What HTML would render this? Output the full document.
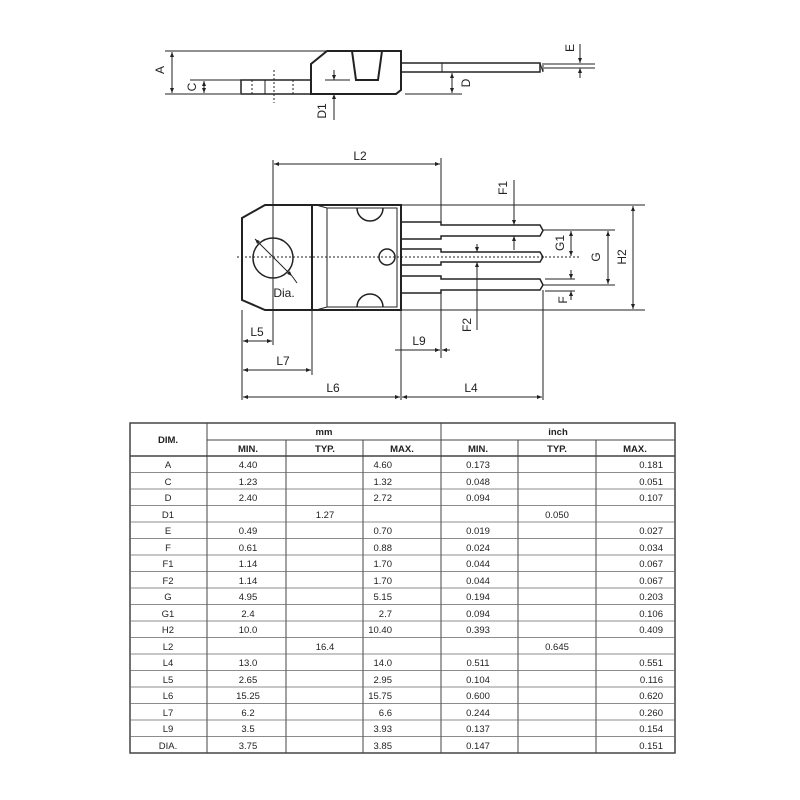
<!DOCTYPE html>
<html><head><meta charset="utf-8"><style>
body{margin:0;background:#fff;}
svg{display:block}
text{font-family:"Liberation Sans",sans-serif;fill:#222}
</style></head><body>
<svg width="800" height="800" viewBox="0 0 800 800" xmlns="http://www.w3.org/2000/svg">
<defs>
<marker id="a" viewBox="0 0 10 10" refX="10" refY="5" markerWidth="5" markerHeight="5" orient="auto-start-reverse"><path d="M0,1 L10,5 L0,9z" fill="#222"/></marker>
</defs>
<g stroke="#222" fill="none" stroke-width="1">
<!-- TOP VIEW -->
<line x1="165" y1="51" x2="327" y2="51"/>
<line x1="165" y1="94" x2="240" y2="94"/>
<line x1="172" y1="52" x2="172" y2="93" marker-start="url(#a)" marker-end="url(#a)"/>
<line x1="190" y1="80" x2="241" y2="80"/>
<line x1="204" y1="81" x2="204" y2="93" marker-start="url(#a)" marker-end="url(#a)"/>
<polygon points="311,94 311,64 327,51 401,51 401,90 396,94" stroke-width="2"/>
<rect x="241" y="80" width="70" height="14" stroke-width="1.5"/>
<line x1="265" y1="80" x2="265" y2="94"/>
<line x1="252" y1="80" x2="252" y2="94" stroke-dasharray="2,2"/>
<line x1="293" y1="80" x2="293" y2="94" stroke-dasharray="2,2"/>
<line x1="274" y1="70" x2="274" y2="103" stroke-dasharray="2,2"/>
<polygon points="352,51 356,80 378,80 382,51" stroke-width="2"/>
<rect x="401" y="63" width="139" height="9" stroke-width="1.5"/>
<line x1="442" y1="63" x2="442" y2="72"/>
<line x1="540" y1="63" x2="543" y2="72"/>
<line x1="543" y1="63" x2="543" y2="72"/>
<line x1="544" y1="64" x2="595" y2="64"/>
<line x1="544" y1="68" x2="595" y2="68"/>
<line x1="405" y1="94" x2="462" y2="94"/>
<line x1="452" y1="73" x2="452" y2="93" marker-start="url(#a)" marker-end="url(#a)"/>
<line x1="325" y1="80" x2="350" y2="80"/>
<line x1="334" y1="70" x2="334" y2="80" marker-end="url(#a)"/>
<line x1="334" y1="120" x2="334" y2="94" marker-end="url(#a)"/>
<line x1="580" y1="44" x2="580" y2="63" marker-end="url(#a)"/>
<line x1="580" y1="78" x2="580" y2="68" marker-end="url(#a)"/>
<!-- FRONT VIEW -->
<line x1="237" y1="257" x2="580" y2="257" stroke-dasharray="2,2"/>
<polygon points="242,218 265,205 312,205 312,310 265,310 242,300" stroke-width="2"/>
<rect x="312" y="205" width="89" height="105" stroke-width="2"/>
<polyline points="316,205 327,208 397,208 397,307 327,307 316,310"/>
<line x1="327" y1="208" x2="327" y2="307"/>
<path d="M357,208 A13,13 0 0 0 383,208" stroke-width="1.5"/>
<path d="M357,307 A13,13 0 0 1 383,307" stroke-width="1.5"/>
<circle cx="387" cy="257" r="8" stroke-width="1.5"/>
<circle cx="273" cy="258" r="20" stroke-width="1.5"/>
<line x1="255" y1="239" x2="292" y2="276" marker-start="url(#a)" marker-end="url(#a)"/>
<path d="M292,276 L297,283"/>
<g stroke-width="1.5">
<path d="M401,222 H441 V225 H540 L543,230.5 L540,236 H441 V239 H401"/>
<path d="M401,249 H441 V252 H540 L543,257 L540,262 H441 V265 H401"/>
<path d="M401,276 H441 V279 H540 L543,285 L540,290 H441 V293 H401"/>
</g>
<line x1="401" y1="205" x2="645" y2="205"/>
<line x1="401" y1="310" x2="645" y2="310"/>
<line x1="633" y1="206" x2="633" y2="309" marker-start="url(#a)" marker-end="url(#a)"/>
<line x1="543" y1="230" x2="615" y2="230"/>
<line x1="543" y1="285" x2="615" y2="285"/>
<line x1="608" y1="231" x2="608" y2="284" marker-start="url(#a)" marker-end="url(#a)"/>
<line x1="571" y1="231" x2="571" y2="256" marker-start="url(#a)" marker-end="url(#a)"/>
<line x1="514" y1="180" x2="514" y2="225" marker-end="url(#a)"/>
<line x1="514" y1="250" x2="514" y2="236" marker-end="url(#a)"/>
<line x1="545" y1="279" x2="575" y2="279"/>
<line x1="545" y1="291" x2="575" y2="291"/>
<line x1="571" y1="270" x2="571" y2="279" marker-end="url(#a)"/>
<line x1="571" y1="300" x2="571" y2="291" marker-end="url(#a)"/>
<line x1="477" y1="244" x2="477" y2="252" marker-end="url(#a)"/>
<line x1="477" y1="330" x2="477" y2="262" marker-end="url(#a)"/>
<line x1="273" y1="160" x2="273" y2="345"/>
<line x1="441" y1="158" x2="441" y2="222"/>
<line x1="274" y1="164" x2="440" y2="164" marker-start="url(#a)" marker-end="url(#a)"/>
<line x1="242" y1="310" x2="242" y2="400"/>
<line x1="312" y1="310" x2="312" y2="375"/>
<line x1="401" y1="310" x2="401" y2="400"/>
<line x1="441" y1="293" x2="441" y2="358"/>
<line x1="543" y1="290" x2="543" y2="400"/>
<line x1="243" y1="341" x2="272" y2="341" marker-start="url(#a)" marker-end="url(#a)"/>
<line x1="243" y1="370" x2="311" y2="370" marker-start="url(#a)" marker-end="url(#a)"/>
<line x1="243" y1="397" x2="400" y2="397" marker-start="url(#a)" marker-end="url(#a)"/>
<line x1="402" y1="397" x2="542" y2="397" marker-start="url(#a)" marker-end="url(#a)"/>
<line x1="395" y1="350" x2="440" y2="350" marker-end="url(#a)"/>
<line x1="450" y1="350" x2="442" y2="350" marker-end="url(#a)"/>
</g>
<g font-size="12" text-anchor="middle">
<text x="164" y="70" transform="rotate(-90 164 70)">A</text>
<text x="196" y="87" transform="rotate(-90 196 87)">C</text>
<text x="470" y="83" transform="rotate(-90 470 83)">D</text>
<text x="326" y="111" transform="rotate(-90 326 111)">D1</text>
<text x="574" y="48" transform="rotate(-90 574 48)">E</text>
<text x="360" y="160">L2</text>
<text x="507" y="188" transform="rotate(-90 507 188)">F1</text>
<text x="564" y="243" transform="rotate(-90 564 243)">G1</text>
<text x="600" y="257" transform="rotate(-90 600 257)">G</text>
<text x="626" y="257" transform="rotate(-90 626 257)">H2</text>
<text x="567" y="300" transform="rotate(-90 567 300)">F</text>
<text x="471" y="325" transform="rotate(-90 471 325)">F2</text>
<text x="284" y="297">Dia.</text>
<text x="257" y="336">L5</text>
<text x="419" y="345">L9</text>
<text x="283" y="365">L7</text>
<text x="333" y="392">L6</text>
<text x="471" y="392">L4</text>
</g>
<!-- TABLE -->
<g stroke="#444" fill="none">
<rect x="130" y="423" width="545" height="330" stroke-width="1.5"/>
<line x1="207" y1="440" x2="675" y2="440"/>
<line x1="130" y1="456" x2="675" y2="456" stroke-width="1.5"/>
<line x1="207" y1="423" x2="207" y2="753"/>
<line x1="441" y1="423" x2="441" y2="753"/>
<line x1="286" y1="440" x2="286" y2="753"/>
<line x1="363" y1="440" x2="363" y2="753"/>
<line x1="518" y1="440" x2="518" y2="753"/>
<line x1="596" y1="440" x2="596" y2="753"/>
</g>
<g font-size="9.5" text-anchor="middle">
<text x="168" y="443" font-weight="bold">DIM.</text>
<text x="324" y="435" font-weight="bold">mm</text>
<text x="558" y="435" font-weight="bold">inch</text>
<text x="248" y="452" font-weight="bold">MIN.</text>
<text x="325" y="452" font-weight="bold">TYP.</text>
<text x="402" y="452" font-weight="bold">MAX.</text>
<text x="478" y="452" font-weight="bold">MIN.</text>
<text x="557" y="452" font-weight="bold">TYP.</text>
<text x="635" y="452" font-weight="bold">MAX.</text>
</g>
<g stroke="#666" stroke-width="0.8">
<line x1="130" y1="472.5" x2="675" y2="472.5"/><line x1="130" y1="489" x2="675" y2="489"/><line x1="130" y1="505.5" x2="675" y2="505.5"/><line x1="130" y1="522" x2="675" y2="522"/><line x1="130" y1="538.5" x2="675" y2="538.5"/><line x1="130" y1="555" x2="675" y2="555"/><line x1="130" y1="571.5" x2="675" y2="571.5"/><line x1="130" y1="588" x2="675" y2="588"/><line x1="130" y1="604.5" x2="675" y2="604.5"/><line x1="130" y1="621" x2="675" y2="621"/><line x1="130" y1="637.5" x2="675" y2="637.5"/><line x1="130" y1="654" x2="675" y2="654"/><line x1="130" y1="670.5" x2="675" y2="670.5"/><line x1="130" y1="687" x2="675" y2="687"/><line x1="130" y1="703.5" x2="675" y2="703.5"/><line x1="130" y1="720" x2="675" y2="720"/><line x1="130" y1="736.5" x2="675" y2="736.5"/>
</g>
<g font-size="9.5" text-anchor="middle">
<text x="168" y="468">A</text><text x="248" y="468">4.40</text><text x="478" y="468">0.173</text>
<text x="168" y="485">C</text><text x="248" y="485">1.23</text><text x="478" y="485">0.048</text>
<text x="168" y="501">D</text><text x="248" y="501">2.40</text><text x="478" y="501">0.094</text>
<text x="168" y="518">D1</text><text x="325" y="518">1.27</text><text x="557" y="518">0.050</text>
<text x="168" y="534">E</text><text x="248" y="534">0.49</text><text x="478" y="534">0.019</text>
<text x="168" y="551">F</text><text x="248" y="551">0.61</text><text x="478" y="551">0.024</text>
<text x="168" y="567">F1</text><text x="248" y="567">1.14</text><text x="478" y="567">0.044</text>
<text x="168" y="584">F2</text><text x="248" y="584">1.14</text><text x="478" y="584">0.044</text>
<text x="168" y="600">G</text><text x="248" y="600">4.95</text><text x="478" y="600">0.194</text>
<text x="168" y="617">G1</text><text x="248" y="617">2.4</text><text x="478" y="617">0.094</text>
<text x="168" y="633">H2</text><text x="248" y="633">10.0</text><text x="478" y="633">0.393</text>
<text x="168" y="650">L2</text><text x="325" y="650">16.4</text><text x="557" y="650">0.645</text>
<text x="168" y="666">L4</text><text x="248" y="666">13.0</text><text x="478" y="666">0.511</text>
<text x="168" y="683">L5</text><text x="248" y="683">2.65</text><text x="478" y="683">0.104</text>
<text x="168" y="699">L6</text><text x="248" y="699">15.25</text><text x="478" y="699">0.600</text>
<text x="168" y="716">L7</text><text x="248" y="716">6.2</text><text x="478" y="716">0.244</text>
<text x="168" y="732">L9</text><text x="248" y="732">3.5</text><text x="478" y="732">0.137</text>
<text x="168" y="749">DIA.</text><text x="248" y="749">3.75</text><text x="478" y="749">0.147</text>
</g>
<g font-size="9.5" text-anchor="end">
<text x="392" y="468">4.60</text><text x="663" y="468">0.181</text>
<text x="392" y="485">1.32</text><text x="663" y="485">0.051</text>
<text x="392" y="501">2.72</text><text x="663" y="501">0.107</text>
<text x="392" y="534">0.70</text><text x="663" y="534">0.027</text>
<text x="392" y="551">0.88</text><text x="663" y="551">0.034</text>
<text x="392" y="567">1.70</text><text x="663" y="567">0.067</text>
<text x="392" y="584">1.70</text><text x="663" y="584">0.067</text>
<text x="392" y="600">5.15</text><text x="663" y="600">0.203</text>
<text x="392" y="617">2.7</text><text x="663" y="617">0.106</text>
<text x="392" y="633">10.40</text><text x="663" y="633">0.409</text>
<text x="392" y="666">14.0</text><text x="663" y="666">0.551</text>
<text x="392" y="683">2.95</text><text x="663" y="683">0.116</text>
<text x="392" y="699">15.75</text><text x="663" y="699">0.620</text>
<text x="392" y="716">6.6</text><text x="663" y="716">0.260</text>
<text x="392" y="732">3.93</text><text x="663" y="732">0.154</text>
<text x="392" y="749">3.85</text><text x="663" y="749">0.151</text>
</g>
</svg>
</body></html>
